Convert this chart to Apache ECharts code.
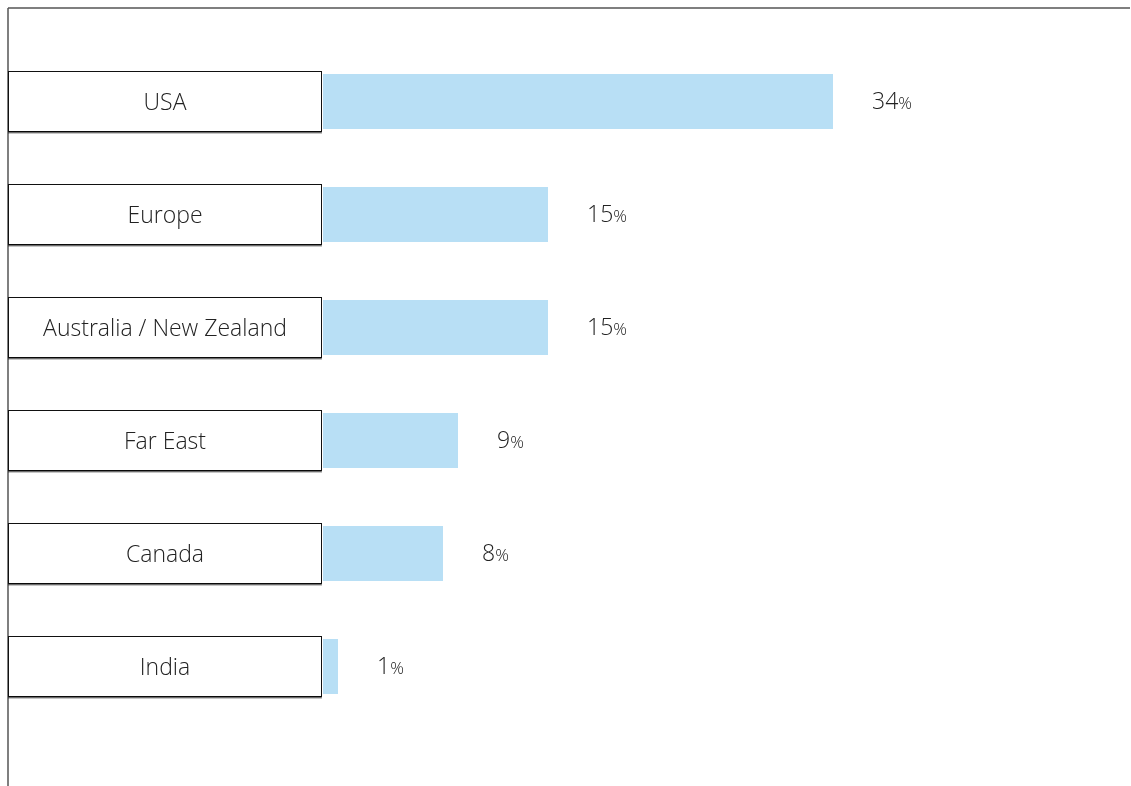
<!DOCTYPE html>
<html>
<head>
<meta charset="utf-8">
<script src="https://cdn.jsdelivr.net/npm/echarts@6/dist/echarts.min.js"></script>
<style>
  html, body { margin: 0; padding: 0; background: #fff; }
  #chart { width: 1131px; height: 786px; }
</style>
</head>
<body>
<div id="chart"></div>
<script>
// Share of visitors by region (%)
const regions = ['USA', 'Europe', 'Australia / New Zealand', 'Far East', 'Canada', 'India'];
const shares = [34, 15, 15, 9, 8, 1];

const FONT = '"Open Sans", "Noto Sans", sans-serif';

const chart = echarts.init(document.getElementById('chart'), null, { renderer: 'canvas' });

chart.setOption({
  animation: false,
  backgroundColor: '#ffffff',
  // frame: top and left rules
  graphic: [
    { type: 'line', shape: { x1: 8, y1: 8, x2: 1130, y2: 8 }, style: { stroke: '#555', lineWidth: 1.5 }, silent: true },
    { type: 'line', shape: { x1: 8, y1: 8, x2: 8, y2: 786 }, style: { stroke: '#555', lineWidth: 1.5 }, silent: true }
  ],
  grid: { left: 323, right: 58, top: 45, bottom: 63, containLabel: false },
  xAxis: {
    type: 'value', min: 0, max: 50,
    show: false
  },
  yAxis: {
    type: 'category',
    inverse: true,
    data: regions,
    axisLine: { show: false },
    axisTick: { show: false },
    splitLine: { show: false },
    axisLabel: {
      margin: 2,
      formatter: v => '{box|' + v + '}',
      rich: {
        box: {
          width: 312,
          height: 55,
          padding: [4, 0, 0, 0],
          align: 'center',
          verticalAlign: 'middle',
          lineHeight: 55,
          fontFamily: FONT,
          fontSize: 23,
          fontWeight: 300,
          color: '#222',
          backgroundColor: '#fff',
          borderColor: '#111',
          borderWidth: 1,
          shadowColor: 'rgba(0,0,0,0.45)',
          shadowOffsetY: 1.5,
          shadowBlur: 0
        }
      }
    }
  },
  series: [{
    type: 'bar',
    data: shares,
    barWidth: 55,
    itemStyle: { color: '#b8dff5' },
    label: {
      show: true,
      position: 'right',
      distance: 39,
      formatter: p => '{n|' + p.value + '}{p|%}',
      rich: {
        n: { fontFamily: FONT, fontSize: 23, fontWeight: 300, color: '#222', padding: [2, 0, 0, 0] },
        p: { fontFamily: FONT, fontSize: 17, fontWeight: 300, color: '#222', padding: [6, 0, 0, 0] }
      }
    }
  }]
});
</script>
</body>
</html>
